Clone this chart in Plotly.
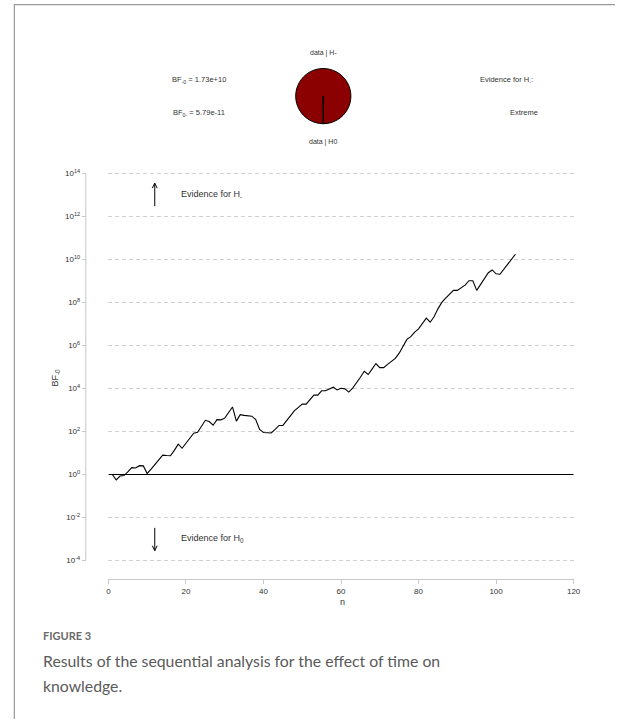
import plotly.graph_objects as go

W, H = 622, 722

# ---- data ----
n_values = list(range(1, 106))
log10_bf = [
    0.00, -0.25, -0.07, -0.05, 0.12, 0.32, 0.30, 0.41, 0.40, 0.05,
    0.25, 0.45, 0.68, 0.90, 0.88, 0.87, 1.12, 1.41, 1.22, 1.45,
    1.68, 1.92, 1.96, 2.22, 2.52, 2.46, 2.29, 2.55, 2.54, 2.62,
    2.88, 3.14, 2.48, 2.78, 2.75, 2.73, 2.71, 2.55, 2.10, 1.95,
    1.93, 1.93, 2.10, 2.28, 2.28, 2.52, 2.76, 2.97, 3.12, 3.27,
    3.27, 3.48, 3.69, 3.69, 3.89, 3.89, 3.97, 4.06, 3.93, 4.01,
    3.98, 3.83, 4.02, 4.25, 4.52, 4.80, 4.65, 4.90, 5.16, 4.97,
    4.97, 5.12, 5.28, 5.40, 5.64, 5.97, 6.28, 6.41, 6.62, 6.77,
    7.00, 7.27, 7.08, 7.33, 7.70, 8.00, 8.20, 8.40, 8.56, 8.56,
    8.68, 8.80, 9.01, 9.01, 8.56, 8.85, 9.12, 9.38, 9.51, 9.33,
    9.31, 9.55, 9.80, 10.05, 10.24,
]
bf_values = [10 ** v for v in log10_bf]

y_tick_exps = [-4, -2, 0, 2, 4, 6, 8, 10, 12, 14]
y_tick_vals = [10.0 ** e for e in y_tick_exps]
y_tick_text = ["10<sup>%d</sup>" % e for e in y_tick_exps]
x_tick_vals = [0, 20, 40, 60, 80, 100, 120]

pie_labels = ["data | H-", "data | H0"]
# posterior-odds style proportions (H0 share is tiny; shown as a hairline)
pie_values = [600.0, 1.0]

bf_text_1 = "BF<sub>-0</sub> = 1.73e+10"
bf_text_2 = "BF<sub>0-</sub> = 5.79e-11"
evidence_label = "Evidence for H<sub>-</sub>:"
evidence_value = "Extreme"


def px(x):
    return x / W


def py(y):
    return 1 - y / H


FONT = "Liberation Sans, Arial, sans-serif"
CAP_FONT = "Lato, Open Sans, sans-serif"
TXT = "#333333"

fig = go.Figure()

# reference line at BF = 1
fig.add_trace(go.Scatter(x=[0, 120], y=[1, 1], mode="lines",
                         line=dict(color="black", width=1.2),
                         hoverinfo="skip", showlegend=False))
# sequential BF line
fig.add_trace(go.Scatter(x=n_values, y=bf_values, mode="lines",
                         line=dict(color="black", width=1.1),
                         showlegend=False))

# pie
cx, cy, r = 326, 93, 28
fig.add_trace(go.Pie(labels=pie_labels, values=pie_values, sort=False,
                     rotation=180, direction="clockwise",
                     marker=dict(colors=["#8B0000", "#FFFFFF"],
                                 line=dict(color="black", width=1)),
                     textinfo="none", hoverinfo="label",
                     showlegend=False,
                     domain=dict(x=[px(cx - r), px(cx + r)],
                                 y=[py(cy + r), py(cy - r)])))

# y axis geometry: 10^-4 at 562px, 10^14 at 171px
dec = (562 - 171) / 18.0
pad = 0.06
fig.update_layout(
    width=W, height=H,
    margin=dict(l=0, r=0, t=0, b=0),
    paper_bgcolor="white", plot_bgcolor="white",
    font=dict(family=FONT, size=8, color=TXT),
    xaxis=dict(domain=[px(108), px(580)], range=[0, 120],
               anchor="free", position=py(581),
               showgrid=False, zeroline=False,
               showline=True, linecolor="#c8c8c8", linewidth=1,
               ticks="outside", ticklen=4, tickcolor="#c8c8c8",
               tickvals=x_tick_vals, tickfont=dict(size=8, color=TXT)),
    yaxis=dict(type="log",
               domain=[py(562 + pad * dec), py(171 - pad * dec)],
               range=[-4 - pad, 14 + pad],
               anchor="free", position=px(85),
               showgrid=True, gridcolor="#d0d0d0", griddash="4px,3px",
               gridwidth=1, zeroline=False,
               showline=False,
               ticks="outside", ticklen=4, tickcolor="#c8c8c8",
               tickvals=y_tick_vals, ticktext=y_tick_text,
               tickfont=dict(size=8, color=TXT)),
)

ann = []


def text(x, y, s, size=8, xanchor="center", color=TXT, angle=0, family=FONT):
    ann.append(dict(x=px(x), y=py(y), xref="paper", yref="paper", text=s,
                    showarrow=False, xanchor=xanchor, yanchor="middle",
                    textangle=angle,
                    font=dict(size=size, color=color, family=family)))


text(326, 49, pie_labels[0], size=7)
text(326, 139, pie_labels[1], size=7)
text(200, 77, bf_text_1, size=7.5)
text(200, 110, bf_text_2, size=7.5)
text(512, 77, evidence_label, size=7.5)
text(530, 110, evidence_value, size=7.5)

text(345, 604, "n", size=9)
text(54, 377, "BF<sub>-0</sub>", size=9, angle=-90)

text(180, 192, "Evidence for H<sub>-</sub>", size=9, xanchor="left")
text(180, 540, "Evidence for H<sub>0</sub>", size=9, xanchor="left")

# caption
text(40, 638, "<b>FIGURE 3</b>", size=11, xanchor="left", color="#6a6a6a",
     family=CAP_FONT)
text(40, 663, "Results of the sequential analysis for the effect of time on",
     size=15.8, xanchor="left", color="#5a5a5a", family=CAP_FONT)
text(40, 688, "knowledge.", size=15.8, xanchor="left", color="#5a5a5a",
     family=CAP_FONT)

fig.update_layout(annotations=ann)

shapes = []


def seg(x0, y0, x1, y1, color="black", width=1):
    shapes.append(dict(type="line", xref="paper", yref="paper",
                       x0=px(x0), y0=py(y0), x1=px(x1), y1=py(y1),
                       line=dict(color=color, width=width)))


# y axis line (R-style, spanning first to last tick)
seg(85, 171, 85, 562, color="#c8c8c8")

# arrows
seg(155, 204, 155, 181)
seg(155, 181, 152.5, 186)
seg(155, 181, 157.5, 186)
seg(155, 529, 155, 552)
seg(155, 552, 152.5, 547)
seg(155, 552, 157.5, 547)

# frame lines
seg(12.5, 0, 12.5, 722, color="#999999", width=1.2)
seg(12.5, 0.6, 622, 0.6, color="#999999", width=1.2)

fig.update_layout(shapes=shapes)

fig.write_html("out.html")
